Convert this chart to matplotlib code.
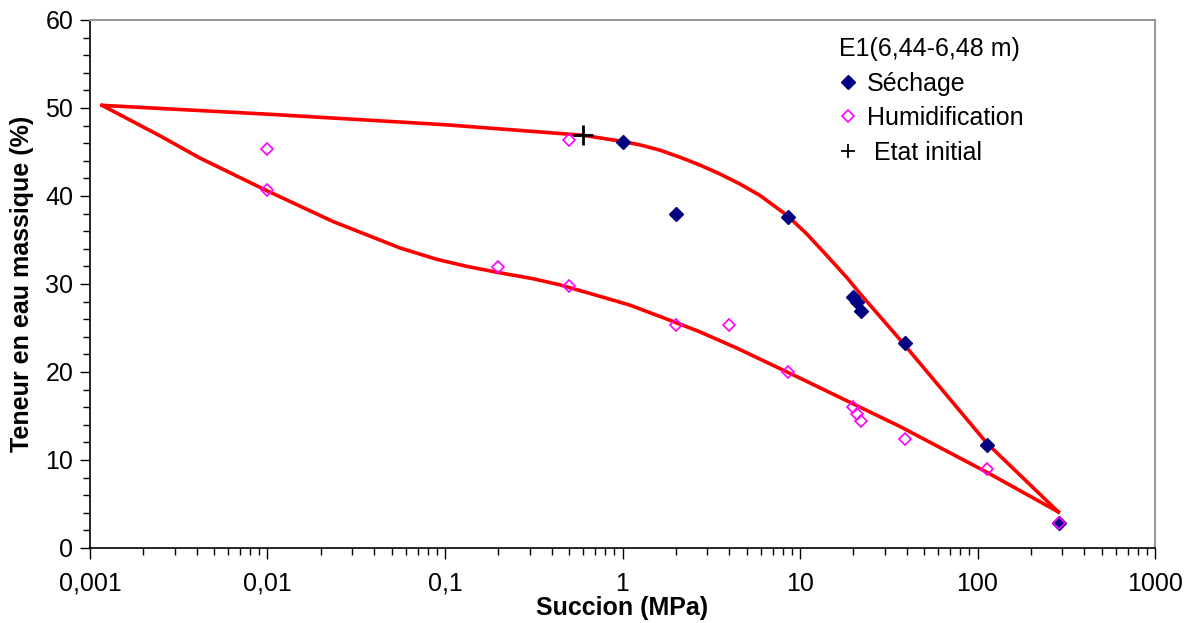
import numpy as np
import matplotlib
matplotlib.use("Agg")
import matplotlib.pyplot as plt
from matplotlib.lines import Line2D
from matplotlib.ticker import FixedLocator, MultipleLocator, LogLocator, NullFormatter

plt.rcParams['font.family'] = ['Liberation Sans', 'DejaVu Sans']

# points
sech_x = [1, 2, 8.5, 20, 21, 22, 39, 113, 288]
sech_y = [46.1, 37.9, 37.6, 28.5, 28.0, 26.9, 23.3, 11.7, 2.8]

humi_x = [0.01, 0.01, 0.2, 0.5, 0.5, 2, 4, 8.5, 20, 21, 22, 39, 113, 288]
humi_y = [45.3, 40.7, 31.9, 29.8, 46.4, 25.3, 25.3, 20.0, 16.0, 15.2, 14.4, 12.4, 9.0, 2.8]

init_x = [0.6]
init_y = [46.9]

# red curves (drying above, wetting below)
curve_up_x = [0.00117, 0.01, 0.1, 0.6, 1.0, 1.26, 1.63, 2.11, 2.74, 3.54, 4.6, 5.96, 8.45, 10.9, 14.2, 18.4,
              21.8, 37.6, 113, 285]
curve_up_y = [50.3, 49.3, 48.1, 46.9, 46.2, 45.8, 45.2, 44.4, 43.5, 42.5, 41.35, 40.05, 37.8, 35.7, 33.2, 30.7,
              28.9, 23.4, 11.9, 4.1]
curve_lo_x = [0.00117, 0.0025, 0.00417, 0.00993, 0.0234, 0.0557, 0.09, 0.133, 0.2, 0.313, 0.445, 0.746, 1.1,
              1.63, 2.7, 4.42, 10.0, 36.6, 113, 285]
curve_lo_y = [50.3, 46.8, 44.3, 40.6, 37.1, 34.1, 32.8, 32.0, 31.3, 30.6, 29.9, 28.6, 27.6,
              26.3, 24.6, 22.7, 19.3, 13.8, 8.6, 4.1]

xticks = [0.001, 0.01, 0.1, 1, 10, 100, 1000]
xlabels = ['0,001', '0,01', '0,1', '1', '10', '100', '1000']

fig = plt.figure(figsize=(11.87, 6.23), dpi=100)
ax = fig.add_axes([0.0758, 0.1204, 0.8973, 0.8475])

ax.plot(curve_up_x, curve_up_y, color='#ff0000', lw=2.6, zorder=2, solid_joinstyle='round')
ax.plot(curve_lo_x, curve_lo_y, color='#ff0000', lw=2.6, zorder=2, solid_joinstyle='round')

h1, = ax.plot(sech_x, sech_y, 'D', color='#000080', ms=7, mec='#000080', label='Séchage', zorder=3)
h2, = ax.plot(humi_x, humi_y, 'D', ms=6.5, mfc='none', mec='#ff00ff', mew=1.2, label='Humidification', zorder=4)
ax.plot(init_x, init_y, '+', color='black', ms=15, mew=2, zorder=5)
h3 = Line2D([], [], ls='none', marker='+', color='black', ms=10, mew=1.3)

ax.set_xscale('log')
ax.set_xlim(0.001, 1000)
ax.set_ylim(0, 60)
ax.xaxis.set_major_locator(FixedLocator(xticks))
ax.xaxis.set_ticklabels(xlabels)
ax.xaxis.set_minor_locator(LogLocator(base=10, subs=np.arange(2, 10)))
ax.xaxis.set_minor_formatter(NullFormatter())
ax.yaxis.set_major_locator(MultipleLocator(10))
ax.yaxis.set_minor_locator(MultipleLocator(2))

ax.tick_params(which='major', direction='out', length=7, width=1, labelsize=18, pad=5)
ax.tick_params(which='minor', direction='out', length=5, width=1)
ax.tick_params(axis='x', which='major', length=8, pad=9)

for s in ['top', 'right']:
    ax.spines[s].set_color('#999999')
    ax.spines[s].set_linewidth(1.5)
for s in ['left', 'bottom']:
    ax.spines[s].set_color('black')
    ax.spines[s].set_linewidth(1.2)

ax.set_xlabel('Succion (MPa)', fontsize=18, fontweight='bold', labelpad=0)
ax.set_ylabel('Teneur en eau massique (%)', fontsize=18, fontweight='bold', labelpad=8)

leg = ax.legend([h1, h2, h3], ['Séchage', 'Humidification', ' Etat initial'],
                loc='upper left', bbox_to_anchor=(0.68, 1.015), frameon=False, fontsize=18,
                title='E1(6,44-6,48 m)', title_fontsize=18, alignment='left',
                handlelength=0.7, handletextpad=0.4, labelspacing=0.42, borderpad=0.5)

fig.savefig('out.png', dpi=100)
